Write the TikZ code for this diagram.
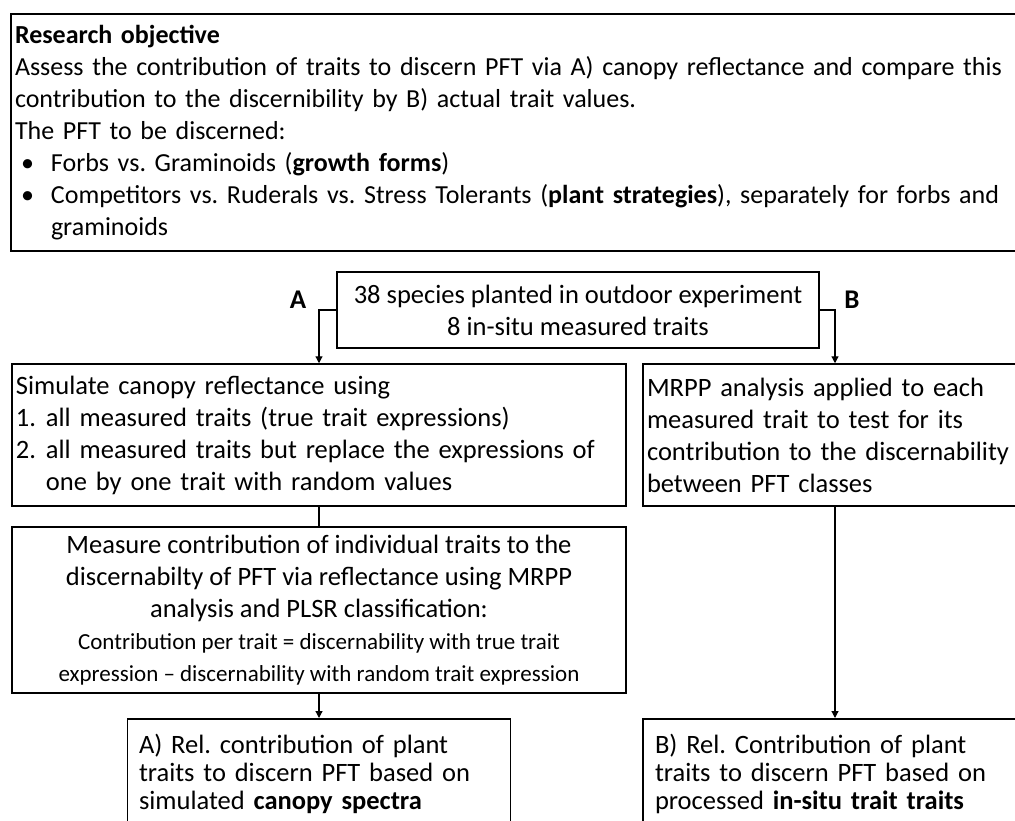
\documentclass[tikz,border=0pt]{standalone}
\usepackage{fontspec}
\setmainfont{Carlito}
\frenchspacing
\usetikzlibrary{arrows.meta, positioning}
\tikzset{
    box/.style={rectangle, draw=black, line width=1.5pt, inner xsep=4pt, inner ysep=4pt, font=\fontsize{26.5}{32}\selectfont},
    topbox/.style={box, line width=2pt, anchor=north west, align=left, font=\fontsize{26}{32}\selectfont},
    leftbox/.style={box, align=left},
    midbox/.style={box, align=center},
    resultbox/.style={box, anchor=north, align=left, font=\fontsize{26.5}{28}\selectfont},
    arrow/.style={-{Triangle[length=7pt, width=7pt]}, line width=1.2pt},
    link/.style={line width=1.2pt},
    branchlabel/.style={font=\fontsize{27}{32}\selectfont\bfseries}
}
\newcommand{\smalltxt}{\fontsize{23}{27}\selectfont}

\begin{document}
\begin{tikzpicture}[x=1pt, y=-1pt]
    \useasboundingbox (0,0) rectangle (1015,821);
    \fill[white] (0,0) rectangle (1015,821);
    \clip (0,0) rectangle (1015,821);
    % research objective
    \node[topbox, minimum height=237pt, text width=1040pt] (objective) at (10,13) {\textbf{Research objective}\\
        Assess the contribution of traits to discern PFT via A) canopy reflectance and compare this\\
        contribution to the discernibility by B) actual trait values.\\
        The PFT to be discerned:\\
        \makebox[36pt][l]{\hspace*{6pt}•}Forbs vs. Graminoids (\textbf{growth forms})\\
        \makebox[36pt][l]{\hspace*{6pt}•}Competitors vs. Ruderals vs. Stress Tolerants (\textbf{plant strategies}), separately for forbs and\\
        \hspace*{36pt}graminoids};
    % experiment
    \node[midbox, minimum width=482pt, minimum height=76pt] (species) at (578,310) {38 species planted in outdoor experiment\\8 in-situ measured traits};
    \node[branchlabel] (labA) at (298,300) {A};
    \node[branchlabel] (labB) at (852,300) {B};
    % branch A
    \node[leftbox, minimum height=142pt, text width=606pt] (sim) at (319,435) {Simulate canopy reflectance using\\
        \makebox[30pt][l]{1.}all measured traits (true trait expressions)\\
        \makebox[30pt][l]{2.}all measured traits but replace the expressions of\\
        \hspace*{30pt}one by one trait with random values};
    \node[midbox, minimum width=614pt, minimum height=166pt] (measure) at (319,610) {Measure contribution of individual traits to the\\
        discernabilty of PFT via reflectance using MRPP\\
        analysis and PLSR classification:\\
        \smalltxt Contribution per trait = discernability with true trait\\
        \smalltxt expression -- discernability with random trait expression};
    \node[resultbox, minimum width=383pt, minimum height=110pt, text width=360pt] (resA) at (319,718) {A) Rel. contribution of plant\\
        traits to discern PFT based on\\
        simulated \textbf{canopy spectra}};
    % branch B
    \node[leftbox, minimum height=142pt, text width=376pt] (mrpp) at (835,435) {MRPP analysis applied to each\\
        measured trait to test for its\\
        contribution to the discernability\\
        between PFT classes};
    \node[resultbox, minimum width=384pt, minimum height=110pt, text width=360pt] (resB) at (835,718) {B) Rel. Contribution of plant\\
        traits to discern PFT based on\\
        processed \textbf{in-situ trait traits}};
    % connectors
    \draw[arrow] (species.west) -| (sim.north);
    \draw[arrow] (species.east) -| (mrpp.north);
    \draw[link] (sim) -- (measure);
    \draw[arrow] (measure) -- (resA);
    \draw[arrow] (mrpp) -- (resB);
\end{tikzpicture}
\end{document}
